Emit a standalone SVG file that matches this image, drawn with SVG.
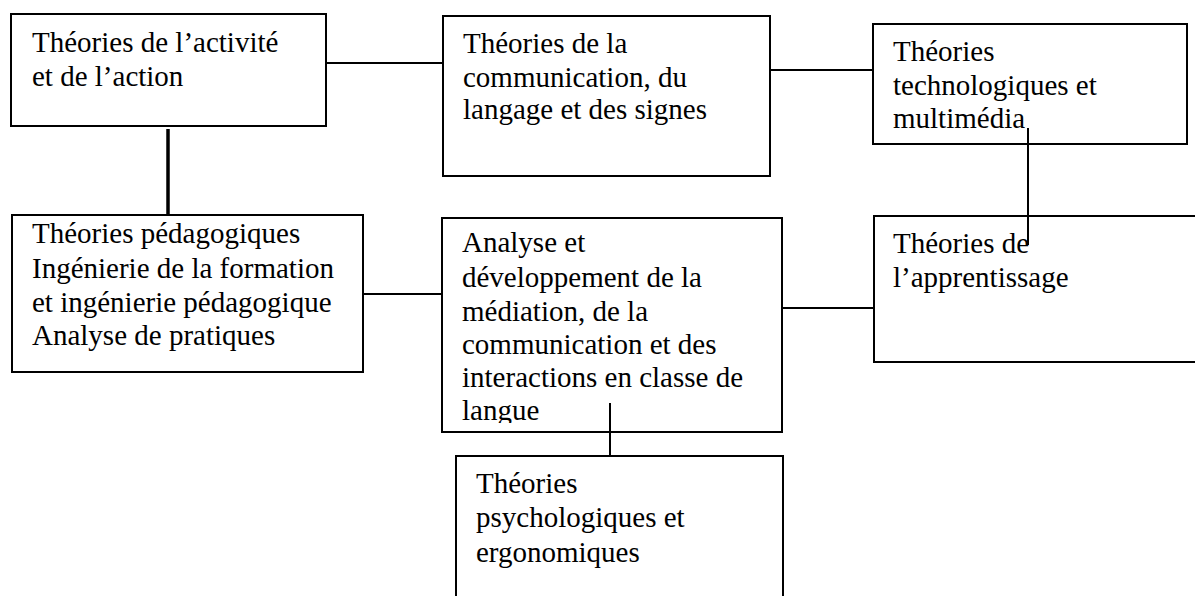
<svg xmlns="http://www.w3.org/2000/svg" width="1195" height="596" viewBox="0 0 1195 596">
<style>
.box{fill:#fff;stroke:#000;stroke-width:2}
.t{font-family:"Liberation Serif","Times New Roman",serif;font-size:29px;fill:#000}
.c{stroke:#000;stroke-width:2;fill:none}
.thick{stroke-width:3.5}
</style>
<defs>
<clipPath id="clip5"><rect x="442" y="218" width="340" height="205"/></clipPath>
</defs>
<rect width="1195" height="596" fill="#fff"/>
<g id="n1">
<rect class="box" x="11" y="14" width="315" height="112"/>
<text class="t" x="32" y="52">Théories de l’activité</text>
<text class="t" x="32" y="86">et de l’action</text>
</g>
<g id="n2">
<rect class="box" x="443" y="16" width="327" height="160"/>
<text class="t" x="463" y="53">Théories de la</text>
<text class="t" x="463" y="87">communication, du</text>
<text class="t" x="463" y="119">langage et des signes</text>
</g>
<g id="n3">
<rect class="box" x="873" y="24" width="314" height="120"/>
<text class="t" x="893" y="61">Théories</text>
<text class="t" x="893" y="95">technologiques et</text>
<text class="t" x="893" y="128">multimédia</text>
</g>
<g id="n4">
<rect class="box" x="874" y="216" width="340" height="146"/>
<text class="t" x="893" y="253">Théories de</text>
<text class="t" x="893" y="287">l’apprentissage</text>
</g>
<g id="n7">
<rect class="box" x="12" y="215" width="351" height="157"/>
<text class="t" x="32" y="243">Théories pédagogiques</text>
<text class="t" x="32" y="278">Ingénierie de la formation</text>
<text class="t" x="32" y="312">et ingénierie pédagogique</text>
<text class="t" x="32" y="345">Analyse de pratiques</text>
</g>
<g id="n5">
<rect class="box" x="442" y="218" width="340" height="214"/>
<g clip-path="url(#clip5)">
<text class="t" x="462" y="252">Analyse et</text>
<text class="t" x="462" y="287">développement de la</text>
<text class="t" x="462" y="321">médiation, de la</text>
<text class="t" x="462" y="354">communication et des</text>
<text class="t" x="462" y="387">interactions en classe de</text>
<text class="t" x="462" y="420">langue</text>
</g>
</g>
<g id="n6">
<rect class="box" x="456" y="456" width="327" height="160"/>
<text class="t" x="476" y="493">Théories</text>
<text class="t" x="476" y="527">psychologiques et</text>
<text class="t" x="476" y="562">ergonomiques</text>
</g>
<g id="connectors">
<line class="c" x1="326" y1="63" x2="443" y2="63"/>
<line class="c" x1="770" y1="70" x2="873" y2="70"/>
<line class="c" x1="1028" y1="128" x2="1028" y2="245"/>
<line class="c thick" x1="168" y1="129" x2="168" y2="215"/>
<line class="c" x1="363" y1="294" x2="442" y2="294"/>
<line class="c" x1="782" y1="308" x2="874" y2="308"/>
<line class="c" x1="610" y1="403" x2="610" y2="456"/>
</g>
</svg>
